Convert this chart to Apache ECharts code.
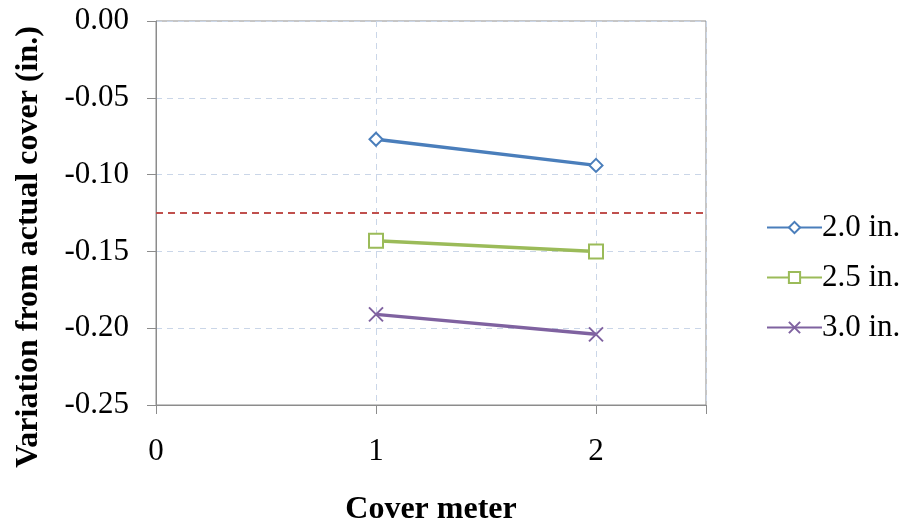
<!DOCTYPE html>
<html>
<head>
<meta charset="utf-8">
<script src="https://cdn.jsdelivr.net/npm/echarts@6/dist/echarts.min.js"></script>
<style>html,body{margin:0;padding:0;background:#fff;}#c{width:908px;height:531px;}</style>
</head>
<body>
<div id="c"></div>
<script>
const coverMeters = [1, 2];
const s20 = [-0.077, -0.094];
const s25 = [-0.143, -0.150];
const s30 = [-0.191, -0.204];
const seriesNames = ['2.0 in.', '2.5 in.', '3.0 in.'];
const referenceLine = -0.125;

const FONT = '"Liberation Serif", "Times New Roman", serif';
const pair = (vals) => coverMeters.map((x, i) => [x, vals[i]]);
const grid = {color: '#CAD6E8', type: [6, 5], width: 1};

const chart = echarts.init(document.getElementById('c'));
chart.setOption({
  animation: false,
  backgroundColor: '#fff',
  grid: {left: 156, top: 21, right: 202, bottom: 120, show: true, borderColor: '#8c8c8c', borderWidth: 1},
  xAxis: {
    type: 'value', min: 0, max: 2.5, interval: 1,
    name: 'Cover meter', nameLocation: 'middle', nameGap: 89,
    nameTextStyle: {fontFamily: FONT, fontSize: 32, fontWeight: 'bold', color: '#000'},
    axisLine: {show: true, onZero: false, lineStyle: {color: '#8c8c8c', width: 1}},
    axisTick: {show: true, inside: false, length: 9, lineStyle: {color: '#8c8c8c'}},
    axisLabel: {fontFamily: FONT, fontSize: 31, color: '#000', margin: 31,
      formatter: v => (Number.isInteger(v) ? String(v) : '')},
    splitLine: {show: true, lineStyle: grid}
  },
  yAxis: {
    type: 'value', min: -0.25, max: 0, interval: 0.05,
    axisLine: {show: true, onZero: false, lineStyle: {color: '#8c8c8c', width: 1}},
    axisTick: {show: true, inside: false, length: 9, lineStyle: {color: '#8c8c8c'}},
    axisLabel: {fontFamily: FONT, fontSize: 31, color: '#000', margin: 27,
      formatter: v => v.toFixed(2)},
    splitLine: {show: true, lineStyle: grid}
  },
  legend: {
    orient: 'vertical', left: 761, top: 207, itemWidth: 55, itemHeight: 14, itemGap: 19,
    textStyle: {fontFamily: FONT, fontSize: 31, color: '#000', padding: [0, 0, 0, -5]},
    data: seriesNames
  },
  graphic: [{
    type: 'text', x: 29, y: 247, rotation: Math.PI / 2,
    style: {text: 'Variation from actual cover (in.)', fontFamily: FONT, fontSize: 32, fontWeight: 'bold',
      fill: '#000', textAlign: 'center', textVerticalAlign: 'middle'}
  }],
  series: [
    {name: seriesNames[0], type: 'line', data: pair(s20), symbol: 'emptyDiamond', symbolSize: 13,
      color: '#4A7EBB', lineStyle: {width: 3.5, color: '#4A7EBB'},
      itemStyle: {color: '#4A7EBB', borderWidth: 1.5},
      markLine: {silent: true, symbol: 'none', precision: 4, label: {show: false},
        lineStyle: {color: '#C0504D', type: [7, 5], width: 2},
        data: [{yAxis: referenceLine}]}},
    {name: seriesNames[1], type: 'line', data: pair(s25), symbol: 'emptyRect', symbolSize: 14,
      color: '#9BBB59', lineStyle: {width: 3.5, color: '#9BBB59'},
      itemStyle: {color: '#9BBB59', borderWidth: 1.5}},
    {name: seriesNames[2], type: 'line', data: pair(s30),
      symbol: 'path://M0,0L10,10M10,0L0,10', symbolSize: 14,
      color: '#7F62A0', lineStyle: {width: 3.5, color: '#7F62A0'},
      itemStyle: {color: 'rgba(0,0,0,0)', borderColor: '#7F62A0', borderWidth: 2}}
  ]
});
</script>
</body>
</html>
